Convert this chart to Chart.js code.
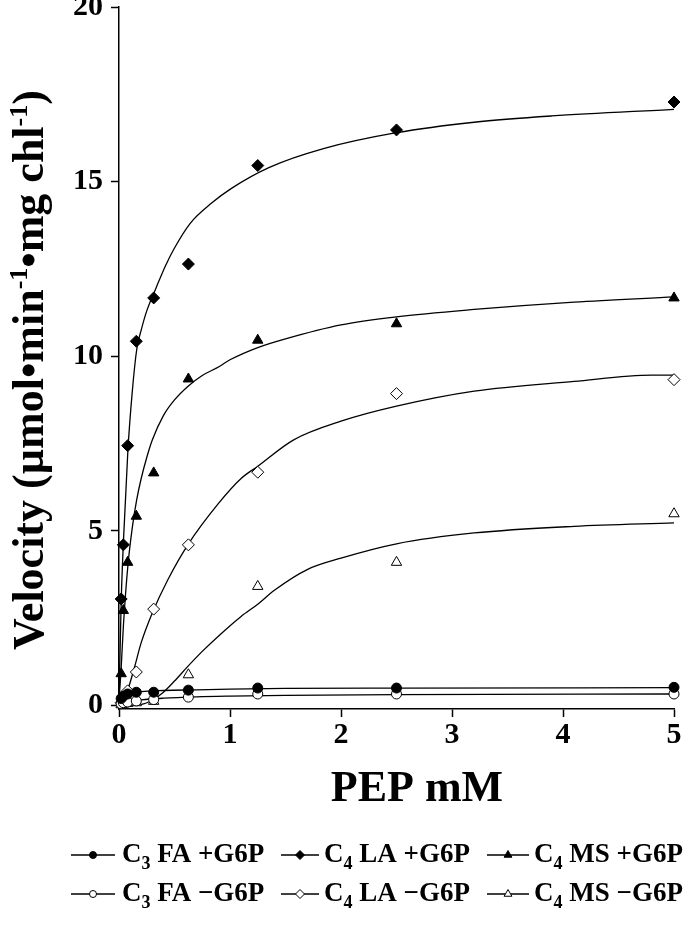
<!DOCTYPE html>
<html>
<head>
<meta charset="utf-8">
<script src="https://cdn.jsdelivr.net/npm/chart.js@4/dist/chart.umd.min.js"></script>
<style>
html,body{margin:0;padding:0;background:#fff;}
canvas{display:block;}
</style>
</head>
<body>
<canvas id="c" width="689" height="925"></canvas>
<script>
// ---------- data ----------
const pepMM = [0.0195, 0.039, 0.078, 0.156, 0.3125, 0.625, 1.25, 2.5, 5];

const c3FA_G6P    = [0.20, 0.27, 0.33, 0.38, 0.38, 0.44, 0.50, 0.50, 0.52];
const c3FA_noG6P  = [0.05, 0.08, 0.10, 0.13, 0.17, 0.24, 0.33, 0.33, 0.33];
const c4LA_G6P    = [3.05, 4.60, 7.44, 10.43, 11.67, 12.64, 15.46, 16.48, 17.28];
const c4LA_noG6P  = [0.08, 0.18, 0.42, 0.96, 2.76, 4.60, 6.68, 8.93, 9.33];
const c4MS_G6P    = [0.91, 2.72, 4.10, 5.42, 6.66, 9.35, 10.46, 10.93, 11.67];
const c4MS_noG6P  = [0.02, 0.04, 0.06, 0.08, 0.12, 0.88, 3.41, 4.10, 5.49];

// fitted curves
const fitFA_G6P_x   = [0, 0.02, 0.05, 0.1, 0.2, 0.4, 0.7, 1, 1.5, 2.5, 5];
const fitFA_G6P_y   = [0, 0.20, 0.30, 0.35, 0.40, 0.43, 0.45, 0.47, 0.49, 0.50, 0.51];
const fitFA_noG6P_x = [0, 0.05, 0.1, 0.2, 0.4, 0.7, 1, 1.5, 2.5, 5];
const fitFA_noG6P_y = [0, 0.07, 0.11, 0.16, 0.21, 0.25, 0.27, 0.29, 0.31, 0.33];
const fitLA_G6P_x   = [0, 0.01, 0.02, 0.04, 0.08, 0.12, 0.16, 0.2, 0.25, 0.333, 0.42, 0.5, 0.64, 0.84, 1.01, 1.35, 1.85, 2.5, 3.2, 3.9, 5];
const fitLA_G6P_y   = [0.2, 1.6, 3.0, 4.7, 7.3, 9.0, 10.2, 10.75, 11.3, 11.95, 12.6, 13.1, 13.8, 14.4, 14.8, 15.4, 15.95, 16.4, 16.7, 16.88, 17.07];
const fitLA_noG6P_x = [0, 0.04, 0.08, 0.14, 0.2, 0.3, 0.44, 0.62, 0.9, 1.1, 1.25, 1.57, 2, 2.5, 3.2, 4.1, 4.8, 5];
const fitLA_noG6P_y = [0, 0.10, 0.45, 1.10, 1.80, 2.65, 3.60, 4.60, 5.80, 6.50, 6.85, 7.60, 8.14, 8.57, 9.00, 9.28, 9.46, 9.46];
const fitMS_G6P_x   = [0, 0.01, 0.02, 0.04, 0.08, 0.12, 0.16, 0.2, 0.25, 0.3, 0.4, 0.5, 0.625, 0.75, 0.9, 1.0, 1.25, 1.5, 2, 2.5, 3.2, 4.1, 5];
const fitMS_G6P_y   = [0.2, 0.6, 1.1, 2.3, 4.0, 5.1, 5.9, 6.5, 7.1, 7.6, 8.3, 8.75, 9.15, 9.45, 9.7, 9.9, 10.25, 10.5, 10.9, 11.13, 11.34, 11.55, 11.7];
const fitMS_noG6P_x = [0, 0.2, 0.3, 0.4, 0.5, 0.62, 0.75, 0.9, 1.1, 1.25, 1.4, 1.7, 2, 2.5, 3.2, 4.1, 5];
const fitMS_noG6P_y = [0, 0.03, 0.15, 0.38, 0.70, 1.12, 1.55, 2.00, 2.55, 2.90, 3.30, 3.90, 4.22, 4.63, 4.94, 5.13, 5.23];

const xTicks = [0, 1, 2, 3, 4, 5];
const yTicks = [0, 5, 10, 15, 20];

const seriesNames = [
  ['C', '3', ' FA +G6P'],
  ['C', '4', ' LA +G6P'],
  ['C', '4', ' MS +G6P'],
  ['C', '3', ' FA \u2212G6P'],
  ['C', '4', ' LA \u2212G6P'],
  ['C', '4', ' MS \u2212G6P']
];
const xTitle = 'PEP mM';
const yTitleParts = [
  ['Velocity (\u00b5mol\u2022min', false], ['-1', true], ['\u2022mg chl', false], ['-1', true], [')', false]
];

// ---------- build datasets ----------
const FONT = "'Liberation Serif', 'Times New Roman', serif";
const pts = (xs, ys) => xs.map((x, i) => ({x: x, y: ys[i]}));

const markerStyles = [
  {pointStyle: 'circle',   radius: 5, fill: '#000'},
  {pointStyle: 'rectRot',  radius: 6, fill: '#000'},
  {pointStyle: 'triangle', radius: 6, fill: '#000'},
  {pointStyle: 'circle',   radius: 5, fill: '#fff'},
  {pointStyle: 'rectRot',  radius: 6, fill: '#fff'},
  {pointStyle: 'triangle', radius: 6, fill: '#fff'}
];
const pointSeries = [c3FA_G6P, c4LA_G6P, c4MS_G6P, c3FA_noG6P, c4LA_noG6P, c4MS_noG6P];
const curveSeries = [
  [fitFA_G6P_x, fitFA_G6P_y], [fitLA_G6P_x, fitLA_G6P_y], [fitMS_G6P_x, fitMS_G6P_y],
  [fitFA_noG6P_x, fitFA_noG6P_y], [fitLA_noG6P_x, fitLA_noG6P_y], [fitMS_noG6P_x, fitMS_noG6P_y]
];

const datasets = [];
pointSeries.forEach((vals, i) => {
  const m = markerStyles[i];
  datasets.push({
    label: seriesNames[i].join(''),
    data: pts(pepMM, vals),
    showLine: false,
    pointStyle: m.pointStyle,
    pointRadius: m.radius,
    pointBackgroundColor: m.fill,
    pointBorderColor: '#000',
    pointBorderWidth: 1,
    clip: false,
    order: 0
  });
});
curveSeries.forEach((c, i) => {
  datasets.push({
    label: seriesNames[i].join('') + ' fit',
    data: pts(c[0], c[1]),
    showLine: true,
    pointRadius: 0,
    borderColor: '#000',
    borderWidth: 1.3,
    cubicInterpolationMode: 'monotone',
    fill: false,
    order: 1
  });
});

// ---------- plugins: axis titles, legend ----------
const titlePlugin = {
  id: 'axisTitles',
  afterDraw(chart) {
    const ctx = chart.ctx;
    const big = 'bold 44px ' + FONT, small = 'bold 26px ' + FONT;
    // y title with superscripts
    let total = 0;
    const widths = yTitleParts.map(p => { ctx.font = p[1] ? small : big; const w = ctx.measureText(p[0]).width; total += w; return w; });
    ctx.save();
    ctx.translate(32, 370);
    ctx.rotate(-Math.PI / 2);
    ctx.fillStyle = '#000';
    ctx.textBaseline = 'middle';
    ctx.textAlign = 'left';
    let x = -total / 2;
    yTitleParts.forEach((p, i) => {
      ctx.font = p[1] ? small : big;
      ctx.fillText(p[0], x, p[1] ? -12 : 0);
      x += widths[i];
    });
    ctx.restore();
    // x title
    ctx.save();
    ctx.font = big;
    ctx.fillStyle = '#000';
    ctx.textAlign = 'center';
    ctx.textBaseline = 'middle';
    ctx.fillText(xTitle, 417, 790);
    ctx.restore();
  }
};

const legendPlugin = {
  id: 'pepLegend',
  afterDraw(chart) {
    const ctx = chart.ctx;
    const cols = [{lx: 71, len: 44, tx: 122}, {lx: 281, len: 38, tx: 324}, {lx: 487, len: 42, tx: 534}];
    const rows = [855, 894];
    seriesNames.forEach((name, i) => {
      const r = Math.floor(i / 3), c = i % 3;
      const col = cols[c], y = rows[r];
      const m = markerStyles[i];
      ctx.save();
      ctx.strokeStyle = '#000';
      ctx.lineWidth = 1.3;
      ctx.beginPath();
      ctx.moveTo(col.lx, y);
      ctx.lineTo(col.lx + col.len, y);
      ctx.stroke();
      ctx.fillStyle = m.fill;
      ctx.lineWidth = 1;
      Chart.helpers.drawPoint(ctx, {pointStyle: m.pointStyle, radius: m.radius - 1.5, borderWidth: 1, rotation: 0}, col.lx + col.len / 2, y);
      ctx.fillStyle = '#000';
      ctx.textBaseline = 'middle';
      ctx.textAlign = 'left';
      let x = col.tx;
      ctx.font = 'bold 27px ' + FONT;
      ctx.fillText(name[0], x, y);
      x += ctx.measureText(name[0]).width;
      ctx.font = 'bold 18px ' + FONT;
      ctx.fillText(name[1], x, y + 9);
      x += ctx.measureText(name[1]).width;
      ctx.font = 'bold 27px ' + FONT;
      ctx.fillText(name[2], x, y);
      ctx.restore();
    });
  }
};

new Chart(document.getElementById('c'), {
  type: 'scatter',
  data: {datasets: datasets},
  options: {
    responsive: false,
    animation: false,
    devicePixelRatio: 1,
    layout: {padding: {top: 7, right: 15, bottom: 0, left: 0}, autoPadding: false},
    plugins: {legend: {display: false}, tooltip: {enabled: false}},
    scales: {
      x: {
        type: 'linear', min: 0, max: 5,
        afterBuildTicks: s => { s.ticks = xTicks.map(v => ({value: v})); },
        afterFit: s => { s.height = 216; s.paddingLeft = 0; s.paddingRight = 0; },
        ticks: {color: '#000', padding: 0, font: {family: FONT, size: 30, weight: 'bold'}},
        grid: {drawOnChartArea: false, drawTicks: true, tickLength: 8, tickColor: '#000', tickWidth: 1.5},
        border: {display: true, color: '#000', width: 1.5},
        title: {display: false}
      },
      y: {
        type: 'linear', min: -0.1, max: 20,
        afterBuildTicks: s => { s.ticks = yTicks.map(v => ({value: v})); },
        afterFit: s => { s.width = 119; s.paddingTop = 0; s.paddingBottom = 0; },
        ticks: {color: '#000', padding: 8, font: {family: FONT, size: 30, weight: 'bold'}},
        grid: {drawOnChartArea: false, drawTicks: true, tickLength: 8, tickColor: '#000', tickWidth: 1.5},
        border: {display: true, color: '#000', width: 1.5},
        title: {display: false}
      }
    }
  },
  plugins: [titlePlugin, legendPlugin]
});
</script>
</body>
</html>
